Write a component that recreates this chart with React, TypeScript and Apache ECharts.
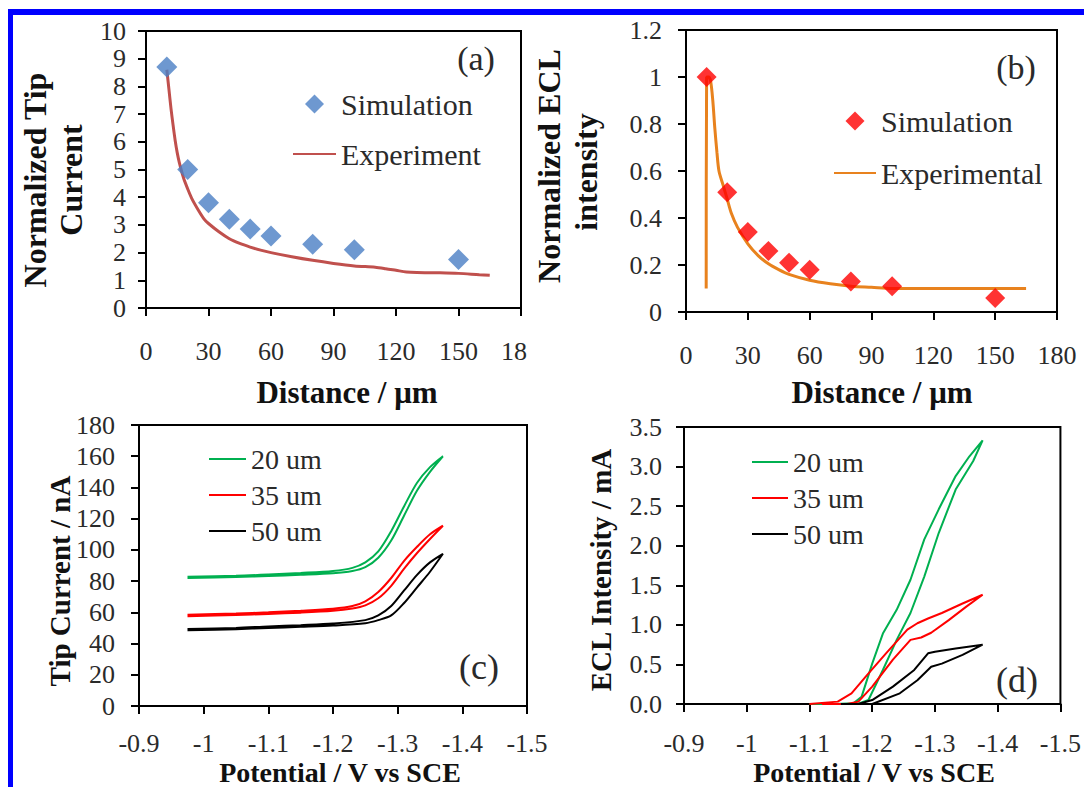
import React, { useEffect, useRef } from "react";
import * as echarts from "echarts";

// ---------- Panel (a): normalized tip current vs distance ----------
const aSimDist = [10, 20, 30, 40, 50, 60, 80, 100, 150];
const aSimCurrent = [8.7, 5.0, 3.8, 3.2, 2.85, 2.6, 2.3, 2.1, 1.75];
const aExpDist = [10, 11, 12, 13, 14, 15, 16, 18, 20, 22, 25, 28, 30, 35, 40, 45, 50, 55, 60, 70, 80, 90, 100, 110, 115, 120, 125, 130, 140, 150, 160, 165];
const aExpCurrent = [8.6, 7.9, 7.2, 6.6, 6.05, 5.6, 5.25, 4.7, 4.3, 3.95, 3.55, 3.2, 3.05, 2.75, 2.5, 2.33, 2.2, 2.09, 2.0, 1.85, 1.72, 1.61, 1.52, 1.47, 1.42, 1.36, 1.3, 1.28, 1.27, 1.25, 1.2, 1.18];

// ---------- Panel (b): normalized ECL intensity vs distance ----------
const bSimDist = [10, 20, 30, 40, 50, 60, 80, 100, 150];
const bSimEcl = [1.0, 0.51, 0.34, 0.26, 0.21, 0.18, 0.13, 0.11, 0.06];
const bExpDist = [9.8, 10, 11, 12, 13, 14, 15, 16, 18, 20, 22, 25, 30, 35, 40, 45, 50, 60, 70, 80, 90, 100, 120, 140, 165];
const bExpEcl = [0.1, 1.0, 1.0, 0.98, 0.9, 0.78, 0.68, 0.6, 0.54, 0.48, 0.42, 0.36, 0.29, 0.24, 0.205, 0.18, 0.16, 0.135, 0.12, 0.11, 0.105, 0.1, 0.1, 0.1, 0.1];

// ---------- Panel (c): tip current CVs ----------
const c20Pot = [-0.975, -1.05, -1.1, -1.15, -1.2, -1.23, -1.25, -1.27, -1.29, -1.31, -1.33, -1.35, -1.37, -1.35, -1.33, -1.31, -1.29, -1.27, -1.25, -1.23, -1.2, -1.15, -1.1, -1.05, -0.975];
const c20Cur = [82, 82.6, 83.2, 84, 85, 86.5, 89, 95, 106, 122, 138, 150, 160, 153, 143, 128, 112, 99, 92, 88.5, 86.5, 85.2, 84.2, 83.4, 82.8];
const c35Pot = [-0.975, -1.05, -1.1, -1.15, -1.2, -1.23, -1.25, -1.27, -1.29, -1.31, -1.33, -1.35, -1.37, -1.35, -1.33, -1.31, -1.29, -1.27, -1.25, -1.23, -1.2, -1.15, -1.1, -1.05, -0.975];
const c35Cur = [57.5, 58.3, 59, 59.8, 61, 62.5, 64.5, 69, 77, 88, 98, 107, 115.5, 110, 102, 93, 82, 73, 67, 64, 62.3, 61, 60, 59.2, 58.5];
const c50Pot = [-0.975, -1.05, -1.1, -1.15, -1.2, -1.25, -1.27, -1.29, -1.31, -1.33, -1.35, -1.37, -1.35, -1.33, -1.31, -1.29, -1.27, -1.25, -1.2, -1.15, -1.1, -1.05, -0.975];
const c50Cur = [48.5, 49.2, 50, 50.7, 51.5, 53, 55, 58, 66, 76, 86, 97.5, 92, 84, 74, 64, 58, 55, 52.8, 51.8, 51, 50, 49.3];

// ---------- Panel (d): ECL intensity CVs ----------
const d20Pot = [-1.1, -1.15, -1.18, -1.194, -1.217, -1.239, -1.261, -1.283, -1.306, -1.333, -1.361, -1.376, -1.355, -1.333, -1.306, -1.283, -1.261, -1.239, -1.217, -1.2, -1.183, -1.17, -1.14];
const d20Ecl = [0, 0, 0.01, 0.05, 0.43, 0.81, 1.15, 1.61, 2.16, 2.71, 3.07, 3.33, 3.13, 2.88, 2.46, 2.08, 1.57, 1.19, 0.89, 0.51, 0.09, 0.01, 0];
const d35Pot = [-1.1, -1.145, -1.167, -1.19, -1.222, -1.256, -1.272, -1.289, -1.311, -1.344, -1.376, -1.35, -1.322, -1.294, -1.278, -1.261, -1.233, -1.2, -1.178, -1.16, -1.12];
const d35Ecl = [0, 0.03, 0.135, 0.35, 0.64, 0.94, 1.02, 1.08, 1.15, 1.27, 1.38, 1.23, 1.06, 0.9, 0.84, 0.81, 0.56, 0.22, 0.03, 0, 0];
const d50Pot = [-1.15, -1.178, -1.2, -1.233, -1.267, -1.289, -1.3, -1.333, -1.376, -1.344, -1.311, -1.294, -1.272, -1.244, -1.2, -1.17];
const d50Ecl = [0, 0, 0.05, 0.22, 0.43, 0.64, 0.66, 0.7, 0.75, 0.62, 0.51, 0.47, 0.3, 0.135, 0, 0];

const distanceTicks = [0, 180, 30];
const potentialTicks = [-1.5, -0.9, 0.1];

const zip = (xs: number[], ys: number[]) => xs.map((x, i) => [x, ys[i]]);

const FONT = "Liberation Serif";
const TXT = "#2a2a2a";
const DIAMOND = "path://M5,0L10,5L5,10L0,5Z";
const HIDDEN_SYMBOL = { opacity: 0, color: "transparent", borderWidth: 0, borderColor: "transparent" };

function axisBase() {
  return {
    axisLine: { show: true, lineStyle: { color: "#000", width: 2 } },
    axisTick: { show: true, inside: false, length: 8, lineStyle: { color: "#000", width: 2 } },
    splitLine: { show: false },
  };
}

function labelStyle(margin: number) {
  return { fontFamily: FONT, fontSize: 26, color: TXT, margin };
}

export default function App() {
  const ref = useRef<HTMLDivElement>(null);

  useEffect(() => {
    if (!ref.current) return;
    const chart = echarts.init(ref.current, null, { renderer: "svg" });

    const potFmt = (v: number) => String(Math.round(v * 10) / 10);
    const legendText = (size: number) => ({ fontFamily: FONT, fontSize: size, color: TXT });

    const option: any = {
      animation: false,
      backgroundColor: "#ffffff",
      grid: [
        { left: 146, top: 31, width: 375, height: 277, show: true, borderColor: "#000", borderWidth: 2, backgroundColor: "transparent" },
        { left: 686, top: 30, width: 371, height: 282, show: true, borderColor: "#000", borderWidth: 2, backgroundColor: "transparent" },
        { left: 139, top: 425, width: 388, height: 281, show: true, borderColor: "#000", borderWidth: 2, backgroundColor: "transparent" },
        { left: 684, top: 427, width: 377, height: 277, show: true, borderColor: "#000", borderWidth: 2, backgroundColor: "transparent" },
      ],
      xAxis: [
        {
          gridIndex: 0, type: "value", min: distanceTicks[0], max: distanceTicks[1], interval: distanceTicks[2], ...axisBase(),
          axisLabel: {
            ...labelStyle(30),
            formatter: (v: number) => (v === 180 ? "{cut|18}" : String(v)),
            rich: { cut: { fontFamily: FONT, fontSize: 26, color: TXT, padding: [0, 14, 0, 0] } },
          },
        },
        {
          gridIndex: 1, type: "value", min: distanceTicks[0], max: distanceTicks[1], interval: distanceTicks[2], ...axisBase(),
          axisLabel: { ...labelStyle(30) },
        },
        {
          gridIndex: 2, type: "value", min: potentialTicks[0], max: potentialTicks[1], interval: potentialTicks[2], inverse: true, ...axisBase(),
          axisLabel: { ...labelStyle(24), formatter: potFmt },
        },
        {
          gridIndex: 3, type: "value", min: potentialTicks[0], max: potentialTicks[1], interval: potentialTicks[2], inverse: true, ...axisBase(),
          axisLabel: { ...labelStyle(26), formatter: potFmt },
        },
      ],
      yAxis: [
        { gridIndex: 0, type: "value", min: 0, max: 10, interval: 1, ...axisBase(), axisLabel: { ...labelStyle(20) } },
        { gridIndex: 1, type: "value", min: 0, max: 1.2, interval: 0.2, ...axisBase(), axisLabel: { ...labelStyle(24) } },
        { gridIndex: 2, type: "value", min: 0, max: 180, interval: 20, ...axisBase(), axisLabel: { ...labelStyle(24) } },
        { gridIndex: 3, type: "value", min: 0, max: 3.5, interval: 0.5, ...axisBase(), axisLabel: { ...labelStyle(22), formatter: (v: number) => v.toFixed(1) } },
      ],
      legend: [
        {
          orient: "vertical", left: 287, top: 84, itemWidth: 43, itemHeight: 19, itemGap: 20, symbolKeepAspect: true,
          data: [
            { name: "Simulation", icon: DIAMOND },
            { name: "Experiment", itemStyle: HIDDEN_SYMBOL },
          ],
          textStyle: legendText(30),
          selectedMode: false,
        },
        {
          orient: "vertical", left: 828, top: 101, itemWidth: 42, itemHeight: 19, itemGap: 22, symbolKeepAspect: true,
          data: [
            { name: "Simulation", icon: DIAMOND, itemStyle: { color: "#FF0000" } },
            { name: "Experimental", itemStyle: HIDDEN_SYMBOL },
          ],
          textStyle: legendText(30),
          selectedMode: false,
        },
        {
          orient: "vertical", left: 203, top: 440, itemWidth: 37, itemHeight: 14, itemGap: 8,
          data: [
            { name: "20 um", itemStyle: HIDDEN_SYMBOL },
            { name: "35 um", itemStyle: HIDDEN_SYMBOL },
            { name: "50 um", itemStyle: HIDDEN_SYMBOL },
          ],
          textStyle: legendText(28),
          selectedMode: false,
        },
        {
          orient: "vertical", left: 746, top: 443, itemWidth: 36, itemHeight: 14, itemGap: 8,
          data: [
            { name: "20 um", itemStyle: HIDDEN_SYMBOL },
            { name: "35 um", itemStyle: HIDDEN_SYMBOL },
            { name: "50 um", itemStyle: HIDDEN_SYMBOL },
          ],
          textStyle: legendText(28),
          selectedMode: false,
        },
      ],
      series: [
        {
          name: "Experiment", type: "line", xAxisIndex: 0, yAxisIndex: 0, data: zip(aExpDist, aExpCurrent),
          symbol: "none", smooth: 0.3, lineStyle: { color: "#C0504D", width: 3 }, itemStyle: { color: "#C0504D" }, z: 2,
        },
        {
          name: "Simulation", type: "scatter", xAxisIndex: 0, yAxisIndex: 0, data: zip(aSimDist, aSimCurrent),
          symbol: "diamond", symbolSize: 21, symbolKeepAspect: true, itemStyle: { color: "#4A7EC4" }, z: 3,
        },
        {
          name: "Experimental", type: "line", xAxisIndex: 1, yAxisIndex: 1, data: zip(bExpDist, bExpEcl),
          symbol: "none", smooth: 0.3, lineStyle: { color: "#E8821E", width: 3 }, itemStyle: { color: "#E8821E" }, z: 2,
        },
        {
          name: "Simulation", type: "scatter", xAxisIndex: 1, yAxisIndex: 1, data: zip(bSimDist, bSimEcl),
          symbol: "diamond", symbolSize: 20, symbolKeepAspect: true, itemStyle: { color: "#FF0000" }, z: 3,
        },
        { name: "20 um", type: "line", xAxisIndex: 2, yAxisIndex: 2, data: zip(c20Pot, c20Cur), symbol: "none", smooth: 0.3, lineStyle: { color: "#00B050", width: 2 }, itemStyle: { color: "#00B050" } },
        { name: "35 um", type: "line", xAxisIndex: 2, yAxisIndex: 2, data: zip(c35Pot, c35Cur), symbol: "none", smooth: 0.3, lineStyle: { color: "#FF0000", width: 2 }, itemStyle: { color: "#FF0000" } },
        { name: "50 um", type: "line", xAxisIndex: 2, yAxisIndex: 2, data: zip(c50Pot, c50Cur), symbol: "none", smooth: 0.3, lineStyle: { color: "#000000", width: 2 }, itemStyle: { color: "#000000" } },
        { name: "20 um", type: "line", xAxisIndex: 3, yAxisIndex: 3, data: zip(d20Pot, d20Ecl), symbol: "none", lineStyle: { color: "#00B050", width: 2 }, itemStyle: { color: "#00B050" } },
        { name: "35 um", type: "line", xAxisIndex: 3, yAxisIndex: 3, data: zip(d35Pot, d35Ecl), symbol: "none", lineStyle: { color: "#FF0000", width: 2 }, itemStyle: { color: "#FF0000" } },
        { name: "50 um", type: "line", xAxisIndex: 3, yAxisIndex: 3, data: zip(d50Pot, d50Ecl), symbol: "none", lineStyle: { color: "#000000", width: 2 }, itemStyle: { color: "#000000" } },
      ],
      graphic: [
        { type: "rect", shape: { x: 8, y: 9, width: 5, height: 778 }, style: { fill: "#0000FF" }, silent: true },
        { type: "rect", shape: { x: 8, y: 9, width: 1076, height: 6 }, style: { fill: "#0000FF" }, silent: true },
        // panel tags
        { type: "text", x: 476, y: 58, style: { text: "(a)", font: `34px '${FONT}'`, fill: TXT, align: "center", verticalAlign: "middle" } },
        { type: "text", x: 1016, y: 67, style: { text: "(b)", font: `34px '${FONT}'`, fill: TXT, align: "center", verticalAlign: "middle" } },
        { type: "text", x: 479, y: 667, style: { text: "(c)", font: `36px '${FONT}'`, fill: TXT, align: "center", verticalAlign: "middle" } },
        { type: "text", x: 1017, y: 680, style: { text: "(d)", font: `36px '${FONT}'`, fill: TXT, align: "center", verticalAlign: "middle" } },
        // x axis titles
        { type: "text", x: 347, y: 392, style: { text: "Distance / μm", font: `bold 31px '${FONT}'`, fill: "#111", align: "center", verticalAlign: "middle" } },
        { type: "text", x: 882, y: 392, style: { text: "Distance / μm", font: `bold 31px '${FONT}'`, fill: "#111", align: "center", verticalAlign: "middle" } },
        { type: "text", x: 340, y: 772, style: { text: "Potential / V vs SCE", font: `bold 28px '${FONT}'`, fill: "#111", align: "center", verticalAlign: "middle" } },
        { type: "text", x: 874, y: 772, style: { text: "Potential / V vs SCE", font: `bold 28px '${FONT}'`, fill: "#111", align: "center", verticalAlign: "middle" } },
        // y axis titles
        { type: "text", x: 35, y: 180, rotation: Math.PI / 2, style: { text: "Normalized Tip", font: `bold 32px '${FONT}'`, fill: "#111", align: "center", verticalAlign: "middle" } },
        { type: "text", x: 71, y: 180, rotation: Math.PI / 2, style: { text: "Current", font: `bold 32px '${FONT}'`, fill: "#111", align: "center", verticalAlign: "middle" } },
        { type: "text", x: 549, y: 166, rotation: Math.PI / 2, style: { text: "Normalized ECL", font: `bold 32px '${FONT}'`, fill: "#111", align: "center", verticalAlign: "middle" } },
        { type: "text", x: 586, y: 172, rotation: Math.PI / 2, style: { text: "intensity", font: `bold 32px '${FONT}'`, fill: "#111", align: "center", verticalAlign: "middle" } },
        { type: "text", x: 60, y: 581, rotation: Math.PI / 2, style: { text: "Tip Current / nA", font: `bold 29px '${FONT}'`, fill: "#111", align: "center", verticalAlign: "middle" } },
        { type: "text", x: 601, y: 570, rotation: Math.PI / 2, style: { text: "ECL Intensity / mA", font: `bold 29px '${FONT}'`, fill: "#111", align: "center", verticalAlign: "middle" } },
      ],
    };

    chart.setOption(option);
    return () => chart.dispose();
  }, []);

  return (
    <div
      ref={ref}
      style={{ position: "absolute", left: 0, top: 0, width: 1084, height: 787, background: "#fff" }}
    />
  );
}
